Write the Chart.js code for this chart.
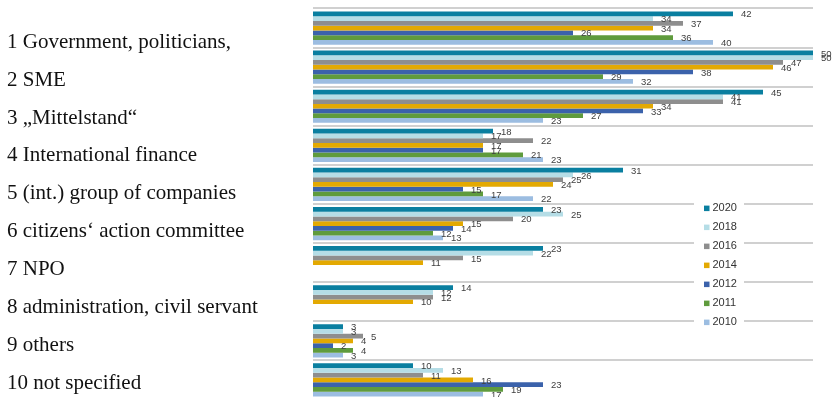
<!DOCTYPE html>
<html>
<head>
<meta charset="utf-8">
<script src="https://cdn.jsdelivr.net/npm/chart.js@4"></script>
<style>
  html, body { margin: 0; padding: 0; background: #fff; overflow: hidden; }
  #wrap { position: relative; width: 833px; height: 410px; }
</style>
</head>
<body>
<div id="wrap"><canvas id="chart"></canvas></div>
<script>
// stakeholder groups, answers per survey year
const categories = [
  "1 Government, politicians,",
  "2 SME",
  "3 \u201EMittelstand\u201C",
  "4 International finance",
  "5 (int.) group of companies",
  "6 citizens\u2018 action committee",
  "7 NPO",
  "8 administration, civil servant",
  "9 others",
  "10 not specified"
];
const years = ["2020", "2018", "2016", "2014", "2012", "2011", "2010"];

const v2020 = [42, 50, 45, 18, 31, 23, 23, 14, 3, 10];
const v2018 = [34, 50, 41, 17, 26, 25, 22, 12, 3, 13];
const v2016 = [37, 47, 41, 22, 25, 20, 15, 12, 5, 11];
const v2014 = [34, 46, 34, 17, 24, 15, 11, 10, 4, 16];
const v2012 = [26, 38, 33, 17, 15, 14, null, null, 2, 23];
const v2011 = [36, 29, 27, 21, 17, 12, null, null, 4, 19];
const v2010 = [40, 32, 23, 23, 22, 13, null, null, 3, 17];

const colors = ["#0a7fa0", "#b5dde6", "#8e8e8e", "#e3a902", "#3b62ab", "#5f9b3d", "#9cbde1"];
const series = [v2020, v2018, v2016, v2014, v2012, v2011, v2010];

// value next to the end of each bar
const barValues = {
  id: "barValues",
  afterDatasetsDraw(chart) {
    const ctx = chart.ctx;
    ctx.save();
    ctx.font = "9.5px 'Liberation Sans', Arial, sans-serif";
    ctx.fillStyle = "#404040";
    ctx.textAlign = "left";
    ctx.textBaseline = "middle";
    chart.data.datasets.forEach((ds, i) => {
      chart.getDatasetMeta(i).data.forEach((bar, j) => {
        const v = ds.data[j];
        if (v == null) return;
        ctx.fillText(String(v), bar.x + 8, bar.y + 1);
      });
    });
    ctx.restore();
  }
};

// numbered category list on the left
const categoryList = {
  id: "categoryList",
  afterDraw(chart) {
    const ctx = chart.ctx;
    ctx.save();
    ctx.font = "21px 'Liberation Serif', 'Times New Roman', serif";
    ctx.fillStyle = "#111";
    ctx.textAlign = "left";
    ctx.textBaseline = "alphabetic";
    categories.forEach((c, i) => ctx.fillText(c, 7, 47.7 + 37.9 * i));
    ctx.restore();
  }
};

// legend box sitting over the plot
const yearLegend = {
  id: "yearLegend",
  afterDraw(chart) {
    const ctx = chart.ctx;
    const a = chart.chartArea;
    const x = a.left + 381, y = a.top + 162;
    ctx.save();
    ctx.fillStyle = "#fff";
    ctx.fillRect(x, y, 50, 170);
    ctx.font = "11px 'Liberation Sans', Arial, sans-serif";
    ctx.textAlign = "left";
    ctx.textBaseline = "middle";
    chart.data.datasets.forEach((ds, i) => {
      const cy = a.top + 199.8 + 19 * i;
      ctx.fillStyle = ds.backgroundColor;
      ctx.fillRect(x + 10, cy - 2.7, 5.5, 5.5);
      ctx.fillStyle = "#333";
      ctx.fillText(ds.label, x + 18.5, cy);
    });
    ctx.restore();
  }
};

new Chart(document.getElementById("chart"), {
  type: "bar",
  data: {
    labels: categories,
    datasets: years.map((y, i) => ({
      label: y,
      data: series[i],
      backgroundColor: colors[i],
      borderWidth: 0,
      barPercentage: 1,
      categoryPercentage: 0.85
    }))
  },
  options: {
    indexAxis: "y",
    responsive: true,
    maintainAspectRatio: false,
    animation: false,
    layout: { padding: { left: 313, right: 20, top: 8.5, bottom: 10.5 } },
    plugins: {
      legend: { display: false },
      tooltip: { enabled: false }
    },
    scales: {
      x: { display: false, min: 0, max: 50 },
      y: {
        grid: { color: "#d0d0d0", lineWidth: 2, drawTicks: false, tickLength: 0, offset: true },
        border: { display: false },
        ticks: { display: false }
      }
    }
  },
  plugins: [barValues, categoryList, yearLegend]
});
</script>
</body>
</html>
